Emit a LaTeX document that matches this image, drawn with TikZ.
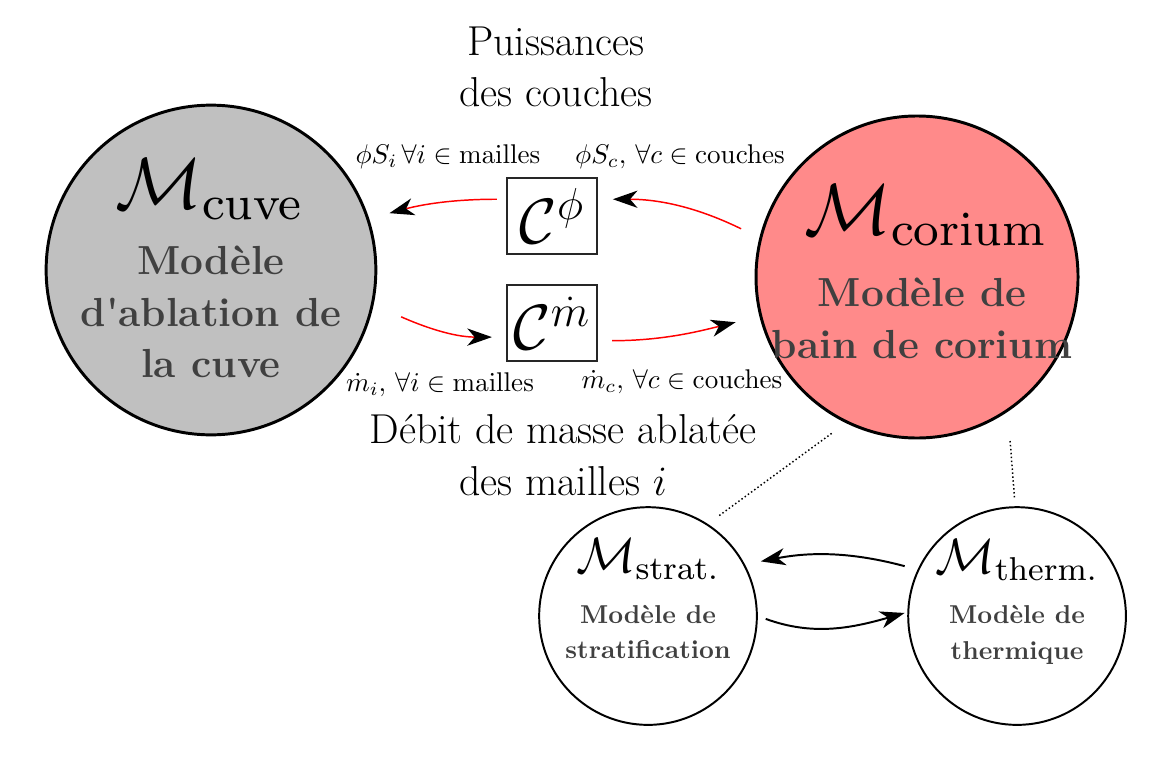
\RequirePackage{fix-cm}
\documentclass[tikz,border=0pt]{standalone}
\usetikzlibrary{arrows.meta,positioning}
\definecolor{cuvegray}{HTML}{C0C0C0}
\definecolor{coriumred}{HTML}{FF8A8A}
\newcommand{\modname}[2]{\scalebox{#1}{\fontsize{12}{14}\selectfont$\mathcal{M}_{\mathrm{#2}}$}}

\begin{document}
\begin{tikzpicture}[
    bigmodel/.style={circle, draw, line width=1.2pt, inner sep=0pt},
    smallmodel/.style={circle, draw, line width=0.8pt, minimum size=3.11cm, inner sep=0pt},
    coupler/.style={draw=black!85, line width=0.8pt, minimum width=1.29cm, minimum height=1.09cm, inner sep=0pt, font=\fontsize{26}{30}\selectfont},
    bigdesc/.style={font=\fontsize{16.5}{21}\selectfont\bfseries, text=black!75, align=center},
    smalldesc/.style={font=\fontsize{10.5}{14.5}\selectfont\bfseries, text=black!75, align=center},
    flux/.style={font=\fontsize{11}{13}\selectfont},
    caption/.style={font=\fontsize{17}{21}\selectfont, align=center},
    redlink/.style={red, line width=0.6pt, -{Stealth[length=10pt, width=7pt, inset=3pt, color=black]}},
    blacklink/.style={line width=0.8pt, -{Stealth[length=10pt, width=7pt, inset=3pt]}},
    dotlink/.style={densely dotted, line width=0.6pt}
  ]
    \useasboundingbox (0,0) rectangle (16.571,-10.886);

    % modeles
    \node[bigmodel, fill=cuvegray, minimum size=4.71cm] (cuve) at (3.014,-3.857) {};
    \node[bigmodel, fill=coriumred, minimum size=4.6cm] (corium) at (13.1,-3.957) {};
    \node[smallmodel] (strat) at (9.257,-8.8) {};
    \node[smallmodel] (therm) at (14.529,-8.8) {};

    \node (cuveM) at (3.0,-2.7) {\modname{2.45}{cuve}};
    \node[bigdesc] (cuveD) at (3.014,-4.457) {Modèle\\d\textquotesingle ablation de\\la cuve};
    \node (coriumM) at (13.229,-3.07) {\modname{2.45}{corium}};
    \node[bigdesc] (coriumD) at (13.171,-4.543) {Modèle de\\bain de corium};
    \node (stratM) at (9.257,-7.99) {\modname{1.68}{strat.}};
    \node[smalldesc] (stratD) at (9.257,-9.029) {Modèle de\\stratification};
    \node (thermM) at (14.529,-8.0) {\modname{1.68}{therm.}};
    \node[smalldesc] (thermD) at (14.529,-9.071) {Modèle de\\thermique};

    % couplages
    \node[coupler] (Cphi) at (7.886,-3.086) {$\mathcal{C}^{\phi}$};
    \node[coupler] (Cmdot) at (7.886,-4.614) {$\mathcal{C}^{\dot{m}}$};

    % textes
    \node[caption] (puissances) at (7.943,-0.957) {Puissances\\des couches};
    \node[caption] (debit) at (8.043,-6.5) {Débit de masse ablatée\\des mailles $i$};
    \node[flux] (phiSi) at (6.4,-2.243) {$\phi S_i\,\forall i \in \mathrm{mailles}$};
    \node[flux] (phiSc) at (9.714,-2.243) {$\phi S_c,\,\forall c \in \mathrm{couches}$};
    \node[flux] (mdoti) at (6.286,-5.5) {$\dot{m}_i,\,\forall i \in \mathrm{mailles}$};
    \node[flux] (mdotc) at (9.743,-5.457) {$\dot{m}_c,\,\forall c \in \mathrm{couches}$};

    % echanges
    \draw[redlink, shorten <=0.13cm, shorten >=0.3cm] (Cphi.160) to[out=180, in=15] (cuve.18);
    \draw[redlink, shorten <=0.29cm, shorten >=0.21cm] (corium.166) to[out=154, in=0] (Cphi.20);
    \draw[redlink, shorten <=0.43cm, shorten >=0.2cm] (cuve.-12) to[out=-24, in=180] (Cmdot.197);
    \draw[redlink, shorten <=0.2cm, shorten >=0.35cm] (Cmdot.-21) to[out=0, in=194] (corium.194);

    \draw[blacklink, shorten <=0.19cm, shorten >=0.23cm] (therm.155) to[out=165, in=11] (strat.28);
    \draw[blacklink, shorten <=0.12cm, shorten >=0.04cm] (strat.0) to[out=-20, in=196] (therm.178);

    \draw[dotlink, shorten <=0.25cm, shorten >=0.18cm] (corium.244) -- (strat.57);
    \draw[dotlink, shorten <=0.42cm, shorten >=0.1cm] (corium.-56) -- (therm.91);
  \end{tikzpicture}
\end{document}
